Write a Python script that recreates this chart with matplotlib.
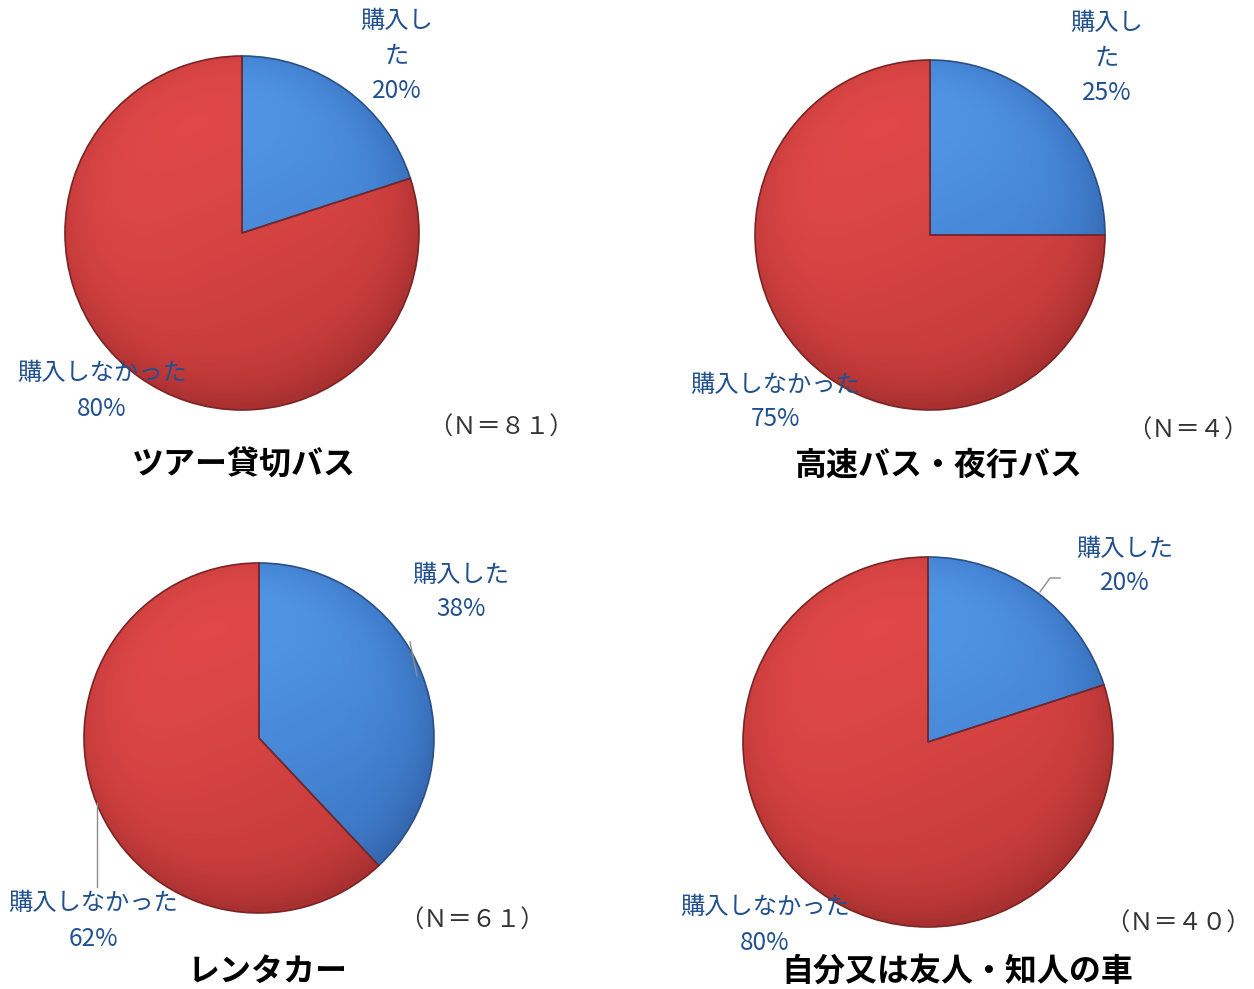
import matplotlib
matplotlib.use("Agg")
import matplotlib.pyplot as plt
import numpy as np
from matplotlib.colors import LinearSegmentedColormap

plt.rcParams["font.family"] = ["Noto Sans CJK JP", "DejaVu Sans"]

# ---------------------------------------------------------------------
# Data
# ---------------------------------------------------------------------

TITLES = ["ツアー貸切バス", "高速バス・夜行バス", "レンタカー", "自分又は友人・知人の車"]
SAMPLE_N = ["（Ｎ＝８１）", "（Ｎ＝４）", "（Ｎ＝６１）", "（Ｎ＝４０）"]
BOUGHT = [20, 25, 38, 20]
NOT_BOUGHT = [80, 75, 62, 80]
SLICE_LABELS = ["購入した", "購入しなかった"]

# ---------------------------------------------------------------------
# Layout (pixel positions in a 1254 x 989 canvas, y measured from top)
# ---------------------------------------------------------------------

W, H = 1254, 989
LAYOUT = [
    dict(c=(242, 233), r=177, lab1=(397, 56), lab2=(102, 391), n=(501, 428),
         title=(244, 466), wrap=True, lead1=None, lead2=None),
    dict(c=(930, 235), r=175, lab1=(1107, 58), lab2=(775, 402), n=(1188, 431),
         title=(938, 466), wrap=True, lead1=None, lead2=None),
    dict(c=(259, 738), r=175, lab1=(461, 592), lab2=(93, 921), n=(472, 921),
         title=(268, 972), wrap=False,
         lead1=[(410, 642), (417, 676)], lead2=[(97, 887), (97, 803)]),
    dict(c=(928, 742), r=185, lab1=(1125, 566), lab2=(765, 925), n=(1178, 924),
         title=(957, 972), wrap=False,
         lead1=[(1040, 592), (1050, 578), (1060, 578)], lead2=None),
]

LABEL_COLOR = "#21508f"
BLUE_CMAP = LinearSegmentedColormap.from_list("b", ["#5196e6", "#3f7ccb", "#3466ad"])
RED_CMAP = LinearSegmentedColormap.from_list("r", ["#e04848", "#c83c3c", "#a83030"])


def fy(y):
    return H - y


def shade_wedge(ax, wedge, cx, cy, r, cmap):
    n = 200
    xs = np.linspace(-1, 1, n)
    ys = np.linspace(1, -1, n)
    xx, yy = np.meshgrid(xs, ys)
    g = 0.55 * (1 - yy) / 2 + 0.25 * (xx + 1) / 2 + 0.35 * np.clip(xx**2 + yy**2, 0, 1) ** 3
    g = np.clip(g, 0, 1)
    im = ax.imshow(g, cmap=cmap, extent=(cx - r, cx + r, cy - r, cy + r),
                   origin="upper", zorder=2, interpolation="bilinear")
    im.set_clip_path(wedge)


def draw_panel(ax, i):
    lay = LAYOUT[i]
    cx, cy = lay["c"][0], fy(lay["c"][1])
    r = lay["r"]
    wedges, _ = ax.pie([BOUGHT[i], NOT_BOUGHT[i]], startangle=90, counterclock=False,
                       center=(cx, cy), radius=r, frame=True,
                       colors=["none", "none"],
                       wedgeprops=dict(linewidth=1.2, zorder=3))
    wedges[0].set_edgecolor("#2a4f86")
    wedges[1].set_edgecolor("#7a2424")
    for w in wedges:
        w.set_facecolor("none")
    shade_wedge(ax, wedges[0], cx, cy, r, BLUE_CMAP)
    shade_wedge(ax, wedges[1], cx, cy, r, RED_CMAP)

    pct1 = f"{BOUGHT[i]}%"
    pct2 = f"{NOT_BOUGHT[i]}%"
    name1 = SLICE_LABELS[0]
    if lay["wrap"]:
        name1 = name1[:3] + "\n" + name1[3:]
    ax.text(lay["lab1"][0], fy(lay["lab1"][1]), f"{name1}\n{pct1}", ha="center",
            va="center", fontsize=17.5, color=LABEL_COLOR, linespacing=1.45, zorder=5)
    ax.text(lay["lab2"][0], fy(lay["lab2"][1]), f"{SLICE_LABELS[1]}\n{pct2}", ha="center",
            va="center", fontsize=17.5, color=LABEL_COLOR, linespacing=1.45, zorder=5)

    for lead in (lay["lead1"], lay["lead2"]):
        if lead:
            xs = [p[0] for p in lead]
            ys = [fy(p[1]) for p in lead]
            ax.plot(xs, ys, color="#8c8c8c", linewidth=1, zorder=4)

    ax.text(lay["n"][0], fy(lay["n"][1]), SAMPLE_N[i], ha="center", va="center",
            fontsize=17.5, color="#333333", zorder=5)
    ax.text(lay["title"][0], fy(lay["title"][1]), TITLES[i], ha="center", va="center",
            fontsize=23, fontweight="bold", color="black", zorder=5)


def main():
    fig = plt.figure(figsize=(W / 100, H / 100), dpi=100)
    ax = fig.add_axes([0, 0, 1, 1])
    for i in range(4):
        draw_panel(ax, i)
    ax.set_xlim(0, W)
    ax.set_ylim(0, H)
    ax.set_aspect("auto")
    ax.axis("off")
    fig.savefig("out.png", dpi=100, facecolor="white")


if __name__ == "__main__":
    main()
